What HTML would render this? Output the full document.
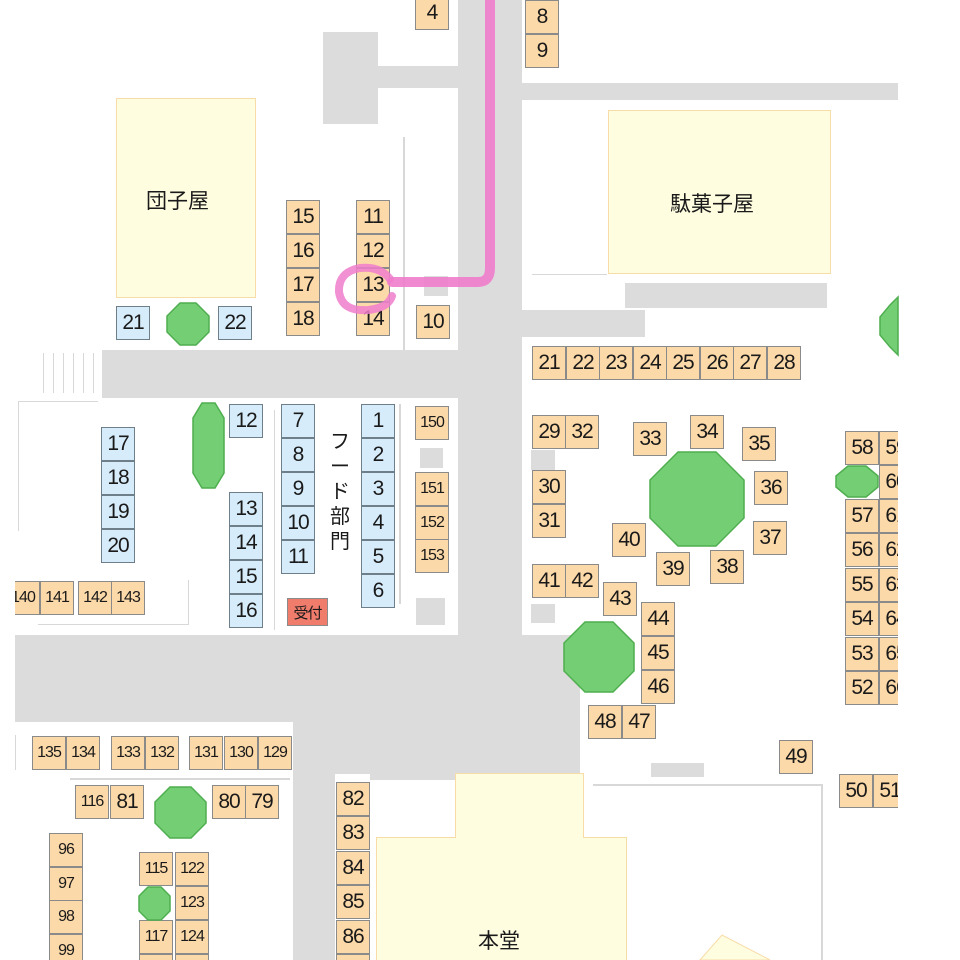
<!DOCTYPE html>
<html><head><meta charset="utf-8"><style>
body{margin:0;background:#fff;}
#m{position:relative;width:960px;height:960px;overflow:hidden;background:#fff;font-family:"Liberation Sans","Noto Sans CJK JP",sans-serif;}
.g{position:absolute;background:#dcdcdc;}
.y{position:absolute;background:#fffde0;box-sizing:border-box;border:1px solid #f8dca8;}
.b{position:absolute;box-sizing:border-box;width:34px;height:34px;border:1px solid #8a8a8a;background:#fcd9a8;font-size:21px;color:#1a1a1a;display:flex;align-items:center;justify-content:center;letter-spacing:-1px;}
.u{background:#d6ecfa;border-color:#6f7f8a;}
.s{font-size:16px;letter-spacing:-1px;}
.t{position:absolute;font-size:21px;color:#1a1a1a;}
.l{position:absolute;background:#d8d8d8;}
svg{position:absolute;left:0;top:0;}
</style></head><body><div id="m">
<!-- roads -->
<div class="g" style="left:458px;top:0;width:64px;height:640px"></div>
<div class="g" style="left:522px;top:83px;width:376px;height:17px"></div>
<div class="g" style="left:323px;top:32px;width:55px;height:92px"></div>
<div class="g" style="left:378px;top:66px;width:80px;height:22px"></div>
<div class="g" style="left:102px;top:350px;width:356px;height:48px"></div>
<div class="g" style="left:625px;top:283px;width:202px;height:25px"></div>
<div class="g" style="left:522px;top:310px;width:123px;height:27px"></div>
<div class="g" style="left:15px;top:635px;width:565px;height:87px"></div>
<div class="g" style="left:293px;top:722px;width:287px;height:52px"></div>
<div class="g" style="left:293px;top:774px;width:42px;height:186px"></div>
<div class="g" style="left:370px;top:774px;width:85px;height:6px"></div>
<div class="g" style="left:420px;top:448px;width:23px;height:20px"></div>
<div class="g" style="left:416px;top:598px;width:29px;height:27px"></div>
<div class="g" style="left:531px;top:450px;width:24px;height:20px"></div>
<div class="g" style="left:531px;top:604px;width:24px;height:19px"></div>
<div class="g" style="left:651px;top:763px;width:53px;height:14px"></div>
<div class="g" style="left:424px;top:276px;width:24px;height:20px"></div>
<!-- faint lines -->
<div class="l" style="left:403px;top:137px;width:2px;height:213px"></div>
<div class="l" style="left:18px;top:401px;width:80px;height:1px"></div>
<div class="l" style="left:18px;top:401px;width:1px;height:130px"></div>
<div class="l" style="left:188px;top:580px;width:1px;height:45px"></div>
<div class="l" style="left:38px;top:624px;width:150px;height:1px"></div>
<div class="l" style="left:274px;top:410px;width:1px;height:220px"></div>
<div class="l" style="left:399px;top:404px;width:2px;height:200px"></div>
<div class="l" style="left:15px;top:735px;width:1px;height:35px"></div>
<div class="l" style="left:70px;top:778px;width:220px;height:2px"></div>
<div class="l" style="left:593px;top:784px;width:230px;height:2px"></div>
<div class="l" style="left:821px;top:784px;width:2px;height:176px"></div>
<div class="l" style="left:532px;top:274px;width:75px;height:1px"></div>
<div class="l" style="left:43px;top:353px;width:1px;height:40px"></div>
<div class="l" style="left:53px;top:353px;width:1px;height:40px"></div>
<div class="l" style="left:63px;top:353px;width:1px;height:40px"></div>
<div class="l" style="left:73px;top:353px;width:1px;height:40px"></div>
<div class="l" style="left:83px;top:353px;width:1px;height:40px"></div>
<div class="l" style="left:93px;top:353px;width:1px;height:40px"></div>
<!-- buildings -->
<div class="y" style="left:116px;top:98px;width:140px;height:200px"></div>
<div class="t" style="left:146px;top:185px">団子屋</div>
<div class="y" style="left:608px;top:110px;width:223px;height:164px"></div>
<div class="t" style="left:670px;top:188px">駄菓子屋</div>
<div class="y" style="left:455px;top:773px;width:129px;height:70px;border-bottom:none"></div>
<div class="y" style="left:376px;top:837px;width:251px;height:130px;border-top:1px solid #f8dca8"></div>
<div style="position:absolute;left:456px;top:836px;width:127px;height:6px;background:#fffde0"></div>
<div class="t" style="left:478px;top:925px">本堂</div>
<svg width="960" height="960"><polygon points="700,960 722,935 770,960" fill="#fffde0" stroke="#f8dca8"/></svg>
<!-- top booths -->
<div class="b" style="left:415px;top:-4px">4</div>
<div class="b" style="left:525px;top:0">8</div>
<div class="b" style="left:525px;top:34px">9</div>
<div class="b" style="left:286px;top:200px">15</div>
<div class="b" style="left:286px;top:234px">16</div>
<div class="b" style="left:286px;top:268px">17</div>
<div class="b" style="left:286px;top:302px">18</div>
<div class="b" style="left:356px;top:200px">11</div>
<div class="b" style="left:356px;top:234px">12</div>
<div class="b" style="left:356px;top:268px">13</div>
<div class="b" style="left:356px;top:302px">14</div>
<div class="b" style="left:416px;top:305px">10</div>
<div class="b u" style="left:116px;top:306px">21</div>
<div class="b u" style="left:218px;top:306px">22</div>
<div class="b" style="left:532px;top:346px">21</div>
<div class="b" style="left:566px;top:346px">22</div>
<div class="b" style="left:599px;top:346px">23</div>
<div class="b" style="left:633px;top:346px">24</div>
<div class="b" style="left:666px;top:346px">25</div>
<div class="b" style="left:700px;top:346px">26</div>
<div class="b" style="left:733px;top:346px">27</div>
<div class="b" style="left:767px;top:346px">28</div>
<!-- food -->
<div class="b u" style="left:229px;top:404px">12</div>
<div class="b u" style="left:101px;top:427px">17</div>
<div class="b u" style="left:101px;top:461px">18</div>
<div class="b u" style="left:101px;top:495px">19</div>
<div class="b u" style="left:101px;top:529px">20</div>
<div class="b u" style="left:229px;top:492px">13</div>
<div class="b u" style="left:229px;top:526px">14</div>
<div class="b u" style="left:229px;top:560px">15</div>
<div class="b u" style="left:229px;top:594px">16</div>
<div class="b u" style="left:281px;top:404px">7</div>
<div class="b u" style="left:281px;top:438px">8</div>
<div class="b u" style="left:281px;top:472px">9</div>
<div class="b u" style="left:281px;top:506px">10</div>
<div class="b u" style="left:281px;top:540px">11</div>
<div class="b u" style="left:361px;top:404px">1</div>
<div class="b u" style="left:361px;top:438px">2</div>
<div class="b u" style="left:361px;top:472px">3</div>
<div class="b u" style="left:361px;top:506px">4</div>
<div class="b u" style="left:361px;top:540px">5</div>
<div class="b u" style="left:361px;top:574px">6</div>
<div class="t" style="left:330px;top:430px;width:20px;line-height:25px;font-size:20px">フ<br>ー<br>ド<br>部<br>門</div>
<div class="b s" style="left:415px;top:406px">150</div>
<div class="b s" style="left:415px;top:472px">151</div>
<div class="b s" style="left:415px;top:506px">152</div>
<div class="b s" style="left:415px;top:539px">153</div>
<div class="b" style="left:287px;top:598px;width:41px;height:28px;background:#f07c6c;font-size:15px">受付</div>
<div class="b s" style="left:6px;top:581px">140</div>
<div style="position:absolute;left:0;top:575px;width:15px;height:45px;background:#fff"></div>
<div class="b s" style="left:40px;top:581px">141</div>
<div class="b s" style="left:78px;top:581px">142</div>
<div class="b s" style="left:111px;top:581px">143</div>
<!-- right -->
<div class="b" style="left:532px;top:415px">29</div>
<div class="b" style="left:565px;top:415px">32</div>
<div class="b" style="left:532px;top:470px">30</div>
<div class="b" style="left:532px;top:504px">31</div>
<div class="b" style="left:633px;top:422px">33</div>
<div class="b" style="left:690px;top:415px">34</div>
<div class="b" style="left:742px;top:427px">35</div>
<div class="b" style="left:754px;top:471px">36</div>
<div class="b" style="left:753px;top:521px">37</div>
<div class="b" style="left:710px;top:550px">38</div>
<div class="b" style="left:656px;top:552px">39</div>
<div class="b" style="left:612px;top:523px">40</div>
<div class="b" style="left:532px;top:564px">41</div>
<div class="b" style="left:565px;top:564px">42</div>
<div class="b" style="left:603px;top:582px">43</div>
<div class="b" style="left:641px;top:602px">44</div>
<div class="b" style="left:641px;top:636px">45</div>
<div class="b" style="left:641px;top:670px">46</div>
<div class="b" style="left:588px;top:705px">48</div>
<div class="b" style="left:622px;top:705px">47</div>
<div class="b" style="left:779px;top:740px">49</div>
<div class="b" style="left:839px;top:774px">50</div>
<div class="b" style="left:873px;top:774px">51</div>
<div class="b" style="left:845px;top:431px">58</div>
<div class="b" style="left:879px;top:431px">59</div>
<div class="b" style="left:879px;top:465px">60</div>
<div class="b" style="left:845px;top:499px">57</div>
<div class="b" style="left:879px;top:499px">61</div>
<div class="b" style="left:845px;top:533px">56</div>
<div class="b" style="left:879px;top:533px">62</div>
<div class="b" style="left:845px;top:568px">55</div>
<div class="b" style="left:879px;top:568px">63</div>
<div class="b" style="left:845px;top:602px">54</div>
<div class="b" style="left:879px;top:602px">64</div>
<div class="b" style="left:845px;top:637px">53</div>
<div class="b" style="left:879px;top:637px">65</div>
<div class="b" style="left:845px;top:671px">52</div>
<div class="b" style="left:879px;top:671px">66</div>
<!-- lower left -->
<div class="b s" style="left:32px;top:736px">135</div>
<div class="b s" style="left:66px;top:736px">134</div>
<div class="b s" style="left:111px;top:736px">133</div>
<div class="b s" style="left:145px;top:736px">132</div>
<div class="b s" style="left:189px;top:736px">131</div>
<div class="b s" style="left:224px;top:736px">130</div>
<div class="b s" style="left:258px;top:736px">129</div>
<div class="b s" style="left:75px;top:785px">116</div>
<div class="b" style="left:110px;top:785px">81</div>
<div class="b" style="left:212px;top:785px">80</div>
<div class="b" style="left:245px;top:785px">79</div>
<div class="b s" style="left:49px;top:833px">96</div>
<div class="b s" style="left:49px;top:867px">97</div>
<div class="b s" style="left:49px;top:900px">98</div>
<div class="b s" style="left:49px;top:934px">99</div>
<div class="b s" style="left:139px;top:852px">115</div>
<div class="b s" style="left:175px;top:852px">122</div>
<div class="b s" style="left:175px;top:886px">123</div>
<div class="b s" style="left:139px;top:920px">117</div>
<div class="b s" style="left:175px;top:920px">124</div>
<div class="b s" style="left:139px;top:954px"></div>
<div class="b s" style="left:175px;top:954px"></div>
<div class="b" style="left:336px;top:782px">82</div>
<div class="b" style="left:336px;top:816px">83</div>
<div class="b" style="left:336px;top:851px">84</div>
<div class="b" style="left:336px;top:885px">85</div>
<div class="b" style="left:336px;top:920px">86</div>
<div class="b" style="left:336px;top:954px"></div>
<!-- clip right -->
<div style="position:absolute;left:898px;top:0;width:62px;height:960px;background:#fff"></div>
<svg width="960" height="960">
<g fill="#74cf74" stroke="#4fae4f" stroke-width="1.5">
<polygon points="180,303 196,303 209,316 209,332 196,345 180,345 167,332 167,316"/>
<polygon points="202,403 215,403 224,418 224,473 215,488 202,488 193,473 193,418"/>
<polygon points="678,452 716,452 744,480 744,518 716,546 678,546 650,518 650,480"/>
<polygon points="585,622 613,622 634,643 634,671 613,692 585,692 564,671 564,643"/>
<polygon points="848,466 866,466 878,476 878,487 866,497 848,497 836,487 836,476"/>
<polygon points="898,297 898,355 890,347 880,335 880,317 890,305"/>
<polygon points="170,787 191,787 206,802 206,823 191,838 170,838 155,823 155,802"/>
<polygon points="148,887 161,887 170,896 170,911 161,920 148,920 139,911 139,896"/>
</g>
<path d="M490,0 L490,268 Q490,282 478,282 L392,282" fill="none" stroke="#f07ccc" stroke-width="10" stroke-opacity="0.9" stroke-linecap="round"/>
<path d="M390,279 Q380,266 360,268 Q338,272 339,292 Q342,312 368,310 Q388,308 392,296" fill="none" stroke="#f07ccc" stroke-width="8" stroke-opacity="0.85" stroke-linecap="round"/>
</svg>
</div></body></html>
